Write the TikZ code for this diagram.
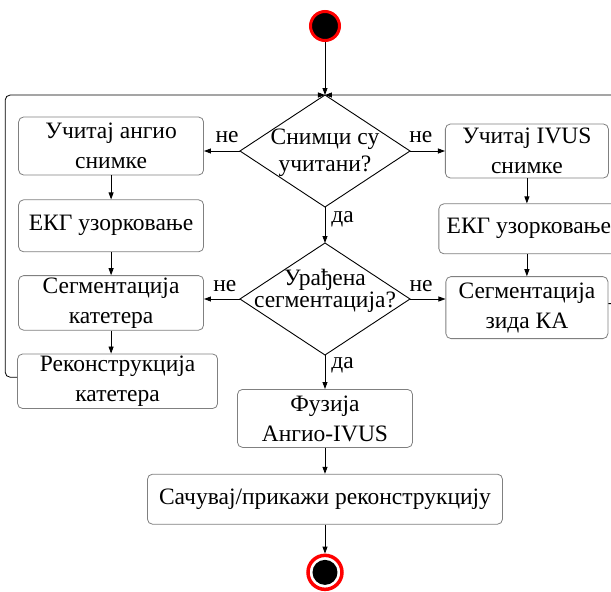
\documentclass[tikz,border=0pt]{standalone}
\usepackage{fontspec}
\setmainfont{Liberation Serif}
\usepackage{xcolor}
\usetikzlibrary{arrows.meta,positioning,shapes.geometric}
\definecolor{boxgrey}{HTML}{808080}
\definecolor{ringred}{HTML}{FF0000}
\tikzset{
  abox/.style={draw=boxgrey, fill=white, rounded corners=5pt, align=center, inner sep=2pt, line width=0.8pt, font=\fontsize{23.5}{30}\selectfont},
  dbox/.style={draw=black, shape=diamond, minimum width=170pt, minimum height=112pt, inner sep=0pt, outer sep=0pt, line width=0.9pt},
  dtext/.style={align=center, inner sep=0pt, font=\fontsize{23.5}{27}\selectfont},
  startdot/.style={circle, fill=black, draw=ringred, line width=3pt, minimum size=29pt, inner sep=0pt},
  stopdot/.style={circle, fill=white, draw=ringred, line width=3.5pt, minimum size=34pt, inner sep=0pt,
    path picture={\fill[black] (path picture bounding box.center) circle (12.5pt);}},
  farrow/.style={-{Triangle[length=7pt,width=5pt]}, line width=0.8pt, black},
  flabel/.style={font=\fontsize{23.5}{24}\selectfont, inner sep=0pt},
}
\begin{document}
\begin{tikzpicture}[node distance=24pt and 36pt]
  \useasboundingbox (-325pt,26pt) rectangle (286pt,-566pt);
  \clip (-325pt,26pt) rectangle (286pt,-566pt);
  % middle column
  \node[startdot] (start) at (0,0) {};
  \node[dbox, below=53pt of start, label={[dtext, yshift=-2pt]center:Снимци су\\учитани?}] (loaded) {};
  \node[dbox, below=36pt of loaded, label={[dtext, font=\fontsize{23.5}{22}\selectfont, yshift=8pt]center:Урађена\\сегментација?}] (segdone) {};
  \node[abox, below=34pt of segdone, minimum width=175pt, minimum height=58pt] (fusion) {Фузија\\Ангио-IVUS};
  \node[abox, below=26pt of fusion, minimum width=355pt, minimum height=50pt] (save) {Сачувај/прикажи реконструкцију};
  \node[stopdot, below=29pt of save] (stop) {};
  % angio branch
  \node[abox, left=36pt of loaded, yshift=5pt, minimum width=185pt, minimum height=58pt] (angio) {Учитај ангио\\снимке};
  \node[abox, below=of angio, minimum width=185pt, minimum height=52pt] (ekgA) {ЕКГ узорковање};
  \node[abox, below=23pt of ekgA, minimum width=185pt, minimum height=52pt] (segcath) {Сегментација\\катетера};
  \node[abox, below=23pt of segcath.south west, anchor=north west, xshift=-1pt, minimum width=200pt, minimum height=52pt] (reccath) {Реконструкција\\катетера};
  % ivus branch
  \node[abox, right=35pt of loaded, minimum width=163pt, minimum height=54pt] (ivus) {Учитај IVUS\\снимке};
  \node[abox, below=25pt of ivus, xshift=2pt, minimum width=180pt, minimum height=50pt] (ekgI) {ЕКГ узорковање};
  \node[abox, below=22pt of ivus |- ekgI.south, minimum width=162pt, minimum height=62pt] (segwall) {Сегментација\\зида КА};
  \coordinate (lbend) at ([xshift=-12pt]reccath.west);
  \coordinate (rbend) at ([xshift=12pt]segwall.east);

  \draw[farrow] (start) -- (loaded.north);
  \draw[farrow] (loaded.west) -- node[flabel, above=8pt, pos=0.36]{не} (loaded.west -| angio.east);
  \draw[farrow] (loaded.east) -- node[flabel, above=8pt, pos=0.31]{не} (loaded.east -| ivus.west);
  \draw[farrow] (loaded.south) -- node[flabel, right=6pt, pos=0.33]{да} (segdone.north);
  \draw[farrow] (segdone.west) -- node[flabel, above=7pt, pos=0.42]{не} (segdone.west -| segcath.east);
  \draw[farrow] (segdone.east) -- node[flabel, above=7pt, pos=0.31]{не} (segdone.east -| segwall.west);
  \draw[farrow] (segdone.south) -- node[flabel, right=6pt, pos=0.3]{да} (fusion);
  \draw[farrow] (fusion) -- (save);
  \draw[farrow] (save) -- (stop);
  \draw[farrow] (angio) -- (ekgA);
  \draw[farrow] (ekgA) -- (segcath);
  \draw[farrow] (segcath) -- (segcath |- reccath.north);
  \draw[farrow] (ivus) -- (ivus |- ekgI.north);
  \draw[farrow] (ivus |- ekgI.south) -- (segwall);
  % loops back to the first question
  \draw[farrow, rounded corners=5pt] ([yshift=4pt]reccath.west) -| (lbend |- loaded.north) -- (loaded.north);
  \draw[farrow, rounded corners=5pt] ([yshift=4pt]segwall.east) -| (rbend |- loaded.north) -- (loaded.north);
\end{tikzpicture}
\end{document}
